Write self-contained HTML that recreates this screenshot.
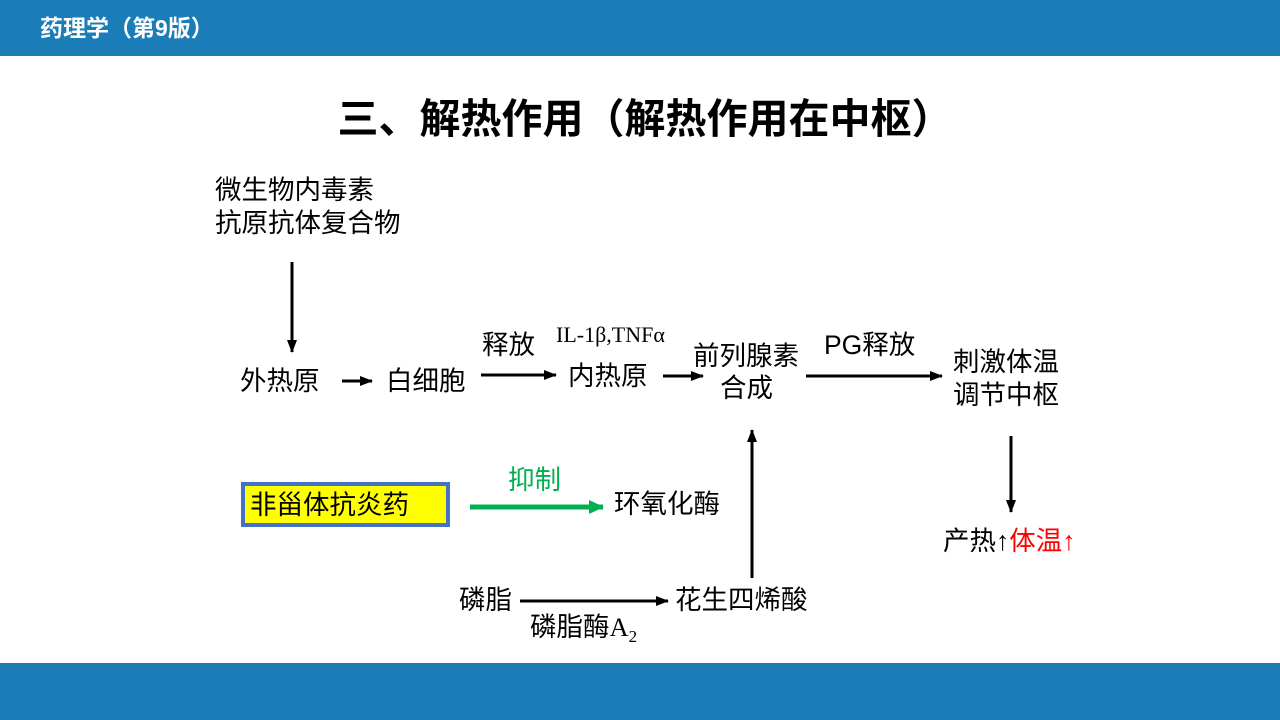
<!DOCTYPE html>
<html><head><meta charset="utf-8"><style>
html,body{margin:0;padding:0;width:1280px;height:720px;overflow:hidden;background:#fff}
svg{display:block}
.z{font-family:"Liberation Sans","Noto Sans CJK SC",sans-serif}
.s{font-family:"Liberation Serif","Noto Serif CJK SC",serif}
</style></head><body>
<svg width="1280" height="720" viewBox="0 0 1280 720">
<defs>
<marker id="a" markerWidth="14" markerHeight="14" refX="12" refY="7" orient="auto" markerUnits="userSpaceOnUse"><path d="M0,2 L13,7 L0,12 z" fill="#000"/></marker>
<marker id="g" markerWidth="16" markerHeight="16" refX="14" refY="8" orient="auto" markerUnits="userSpaceOnUse"><path d="M0,1 L15,8 L0,15 z" fill="#00b050"/></marker>
</defs>
<rect x="0" y="0" width="1280" height="56" fill="#1a7db8"/>
<rect x="0" y="663" width="1280" height="57" fill="#1a7db8"/>
<text x="40" y="36" class="z" font-size="23" font-weight="bold" fill="#fff">药理学（第9版）</text>
<text x="645" y="133" class="z" font-size="41" font-weight="bold" text-anchor="middle">三、解热作用（解热作用在中枢）</text>
<g class="z" font-size="26.5" fill="#000">
<text x="215" y="199">微生物内毒素</text>
<text x="215" y="232">抗原抗体复合物</text>
<text x="240" y="390">外热原</text>
<text x="386" y="390">白细胞</text>
<text x="482" y="354">释放</text>
<text x="568" y="385">内热原</text>
<text x="693" y="365">前列腺素</text>
<text x="720" y="397">合成</text>
<text x="824" y="354">PG释放</text>
<text x="953" y="371">刺激体温</text>
<text x="953" y="404">调节中枢</text>
<text x="943" y="550">产热↑<tspan fill="#ff0000">体温↑</tspan></text>
<text x="614" y="513">环氧化酶</text>
<text x="459" y="609">磷脂</text>
<text x="675" y="609">花生四烯酸</text>
<text x="530" y="636">磷脂酶<tspan class="s">A</tspan><tspan class="s" font-size="17" dy="6">2</tspan></text>
<text x="508" y="489" fill="#00b050">抑制</text>
</g>
<text x="556" y="342" class="s" font-size="22">IL-1β,TNFα</text>
<rect x="243" y="484" width="205" height="41" fill="#ffff00" stroke="#4472c4" stroke-width="4"/>
<text x="250" y="514" class="z" font-size="26.5">非甾体抗炎药</text>
<g stroke="#000" stroke-width="3" fill="none">
<line x1="292" y1="262" x2="292" y2="352" marker-end="url(#a)"/>
<line x1="342" y1="381" x2="372" y2="381" marker-end="url(#a)"/>
<line x1="481" y1="375" x2="556" y2="375" marker-end="url(#a)"/>
<line x1="663" y1="376" x2="703" y2="376" marker-end="url(#a)"/>
<line x1="806" y1="376" x2="942" y2="376" marker-end="url(#a)"/>
<line x1="1011" y1="436" x2="1011" y2="512" marker-end="url(#a)"/>
<line x1="752" y1="578" x2="752" y2="430" marker-end="url(#a)"/>
<line x1="520" y1="601" x2="668" y2="601" marker-end="url(#a)"/>
</g>
<line x1="470" y1="507" x2="603" y2="507" stroke="#00b050" stroke-width="5" marker-end="url(#g)"/>
</svg>
</body></html>
